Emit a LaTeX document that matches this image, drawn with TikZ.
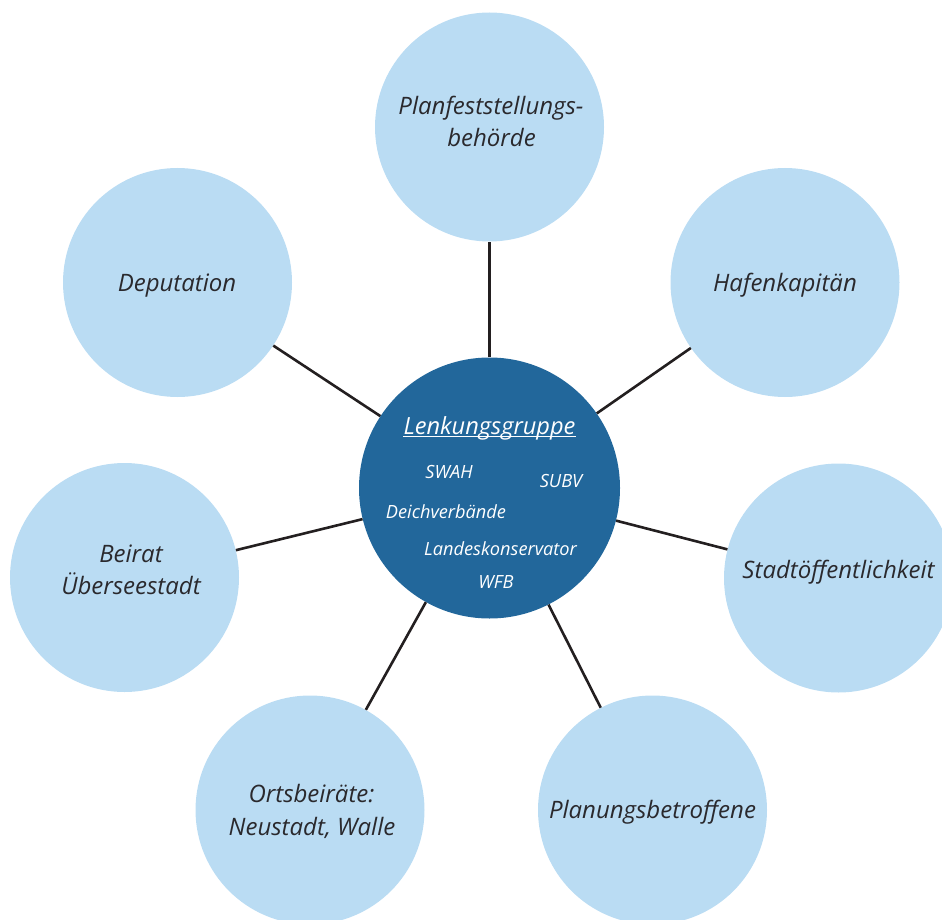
\documentclass[tikz,border=0pt]{standalone}
\usepackage{fontspec}
\setmainfont{Open Sans}
\definecolor{lightblue}{HTML}{BADCF3}
\definecolor{darkblue}{HTML}{22679B}
\definecolor{txt}{HTML}{2A292D}
\definecolor{conn}{HTML}{231F20}
\begin{document}
\begin{tikzpicture}[x=1pt,y=-1pt,
  outer/.style={circle, fill=lightblue, minimum size=229pt, inner sep=0pt},
  core/.style={circle, fill=darkblue, minimum size=261pt, inner sep=0pt},
  lbl/.style={inner sep=0pt, anchor=base, text=txt, font=\fontsize{24}{28}\selectfont\itshape},
  sml/.style={inner sep=0pt, anchor=base, text=white, font=\fontsize{18.2}{22}\selectfont\itshape},
  link/.style={draw=conn, line width=2.6pt}
]
\useasboundingbox (0,0) rectangle (942,920);
\clip (0,0) rectangle (942,920);
% circles
\node[core] (lg) at (489.5,488) {};
\node[outer] (pf) at (489.5,127) {};
\node[outer] (dep) at (177.5,282.5) {};
\node[outer] (hk) at (785,282.5) {};
\node[outer] (bei) at (124.5,577.5) {};
\node[outer] (sto) at (838.5,578) {};
\node[outer] (orb) at (310,810) {};
\node[outer] (plb) at (652.5,810) {};
% connectors
\draw[link] (lg) -- (pf);
\draw[link] (lg) -- (dep);
\draw[link] (lg) -- (hk);
\draw[link] (lg) -- (bei);
\draw[link] (lg) -- (sto);
\draw[link] (lg) -- (orb);
\draw[link] (lg) -- (plb);
% outer labels
\node[lbl] (pf1) at (491,115) {Planfeststellungs-};
\node[lbl] (pf2) at (491.5,147) {behörde};
\node[lbl] (dept) at (177,291.7) {Deputation};
\node[lbl] (hkt) at (785,291.7) {Hafenkapitän};
\node[lbl] (bei1) at (131,562.7) {Beirat};
\node[lbl] (bei2) at (131,594) {Überseestadt};
\node[lbl] (stot) at (838.5,578) {Stadtöffentlichkeit};
\node[lbl] (orb1) at (311.5,802) {Ortsbeiräte:};
\node[lbl] (orb2) at (312,835) {Neustadt, Walle};
\node[lbl] (plbt) at (652.5,818) {Planungsbetroffene};
% core labels
\node[sml, font=\fontsize{23.6}{28}\selectfont\itshape] (lgt) at (489.5,434) {Lenkungsgruppe};
\draw[white, line width=1.1pt] ([yshift=-2.8pt]lgt.base west) -- ([yshift=-2.8pt]lgt.base east);
\node[sml] (swah) at (449,478) {SWAH};
\node[sml] (subv) at (561,487) {SUBV};
\node[sml] (dv) at (446,518) {Deichverbände};
\node[sml] (lk) at (500.5,555) {Landeskonservator};
\node[sml] (wfb) at (496,588) {WFB};
\end{tikzpicture}
\end{document}
